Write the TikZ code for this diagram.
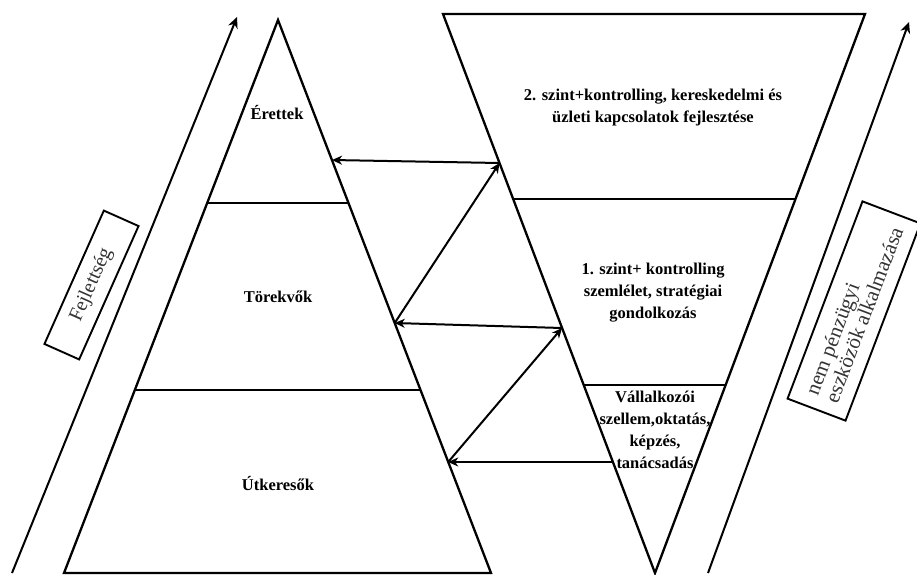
\documentclass[tikz,border=0pt]{standalone}
\usepackage{fontspec}
\setmainfont{Liberation Serif}
\usetikzlibrary{arrows.meta}
\begin{document}
\begin{tikzpicture}[x=1pt,y=-1pt,
  tri/.style={line width=2.3pt, line join=miter},
  sepline/.style={line width=2.3pt},
  link/.style={line width=2pt, -{Stealth[length=10pt,width=9pt,inset=3pt]}},
  trend/.style={line width=2pt, -{Stealth[length=11pt,width=10pt,inset=3.5pt]}},
  lbl/.style={font=\fontsize{16.5}{22}\selectfont\bfseries, align=center, inner sep=0pt},
  side/.style={draw, line width=1.9pt, text=black!80, inner sep=0pt, anchor=center}
]
\useasboundingbox (0,0) rectangle (917,574);
% triangles
\coordinate (la) at (278,20);
\coordinate (lbl) at (64,573);
\coordinate (lbr) at (491,573);
\coordinate (rtl) at (443,14);
\coordinate (rtr) at (865,14);
\coordinate (rap) at (655,573);
\draw[tri] (la) -- (lbr) -- (lbl) -- cycle;
\draw[tri] (rtl) -- (rtr) -- (rap) -- cycle;
% separators
\coordinate (s1a) at (207.2,203); \coordinate (s1b) at (348.5,203);
\coordinate (s2a) at (134.8,390); \coordinate (s2b) at (420.5,390);
\coordinate (s3a) at (513.2,199); \coordinate (s3b) at (795.5,199);
\coordinate (s4a) at (583.7,385); \coordinate (s4b) at (725.6,385);
\draw[sepline] (s1a) -- (s1b);
\draw[sepline] (s2a) -- (s2b);
\draw[sepline] (s3a) -- (s3b);
\draw[sepline] (s4a) -- (s4b);
% side arrows
\coordinate (ltail) at (12,573); \coordinate (lhead) at (237,17);
\coordinate (rtail) at (708,573); \coordinate (rhead) at (909,22);
\draw[trend] (ltail) -- (lhead);
\draw[trend] (rtail) -- (rhead);
% side boxes
\node[side, font=\fontsize{20}{22}\selectfont, minimum width=146pt, minimum height=38pt, rotate=66] (fej) at (91.5,285) {Fejlettség};
\node[side, font=\fontsize{21}{21}\selectfont, minimum width=211pt, minimum height=62pt, rotate=69.2, align=left] (npe) at (854,311) {nem pénzügyi\\eszközök alkalmazása};
% labels
\node[lbl] (er) at (277,112) {Érettek};
\node[lbl] (to) at (278,297) {Törekvők};
\node[lbl] (ut) at (278,483) {Útkeresők};
\node[lbl] (t2) at (653,108) {2. szint+kontrolling, kereskedelmi és\\üzleti kapcsolatok fejlesztése};
\node[lbl] (t1) at (653,293) {1. szint+ kontrolling\\szemlélet, stratégiai\\gondolkozás};
\node[lbl] (t0) at (655,430) {Vállalkozói\\szellem,oktatás,\\képzés,\\tanácsadás};
% connecting arrows
\coordinate (l1) at (332,160); \coordinate (r1) at (499.5,163);
\coordinate (l2) at (394.7,323); \coordinate (r2) at (562,328);
\coordinate (l3) at (448.2,462); \coordinate (r3) at (612.9,462);
\draw[link] (r1) -- (l1);
\draw[link] (l2) -- (r1);
\draw[link] (r2) -- (l2);
\draw[link] (l3) -- (r2);
\draw[link] (r3) -- (l3);
\end{tikzpicture}
\end{document}
